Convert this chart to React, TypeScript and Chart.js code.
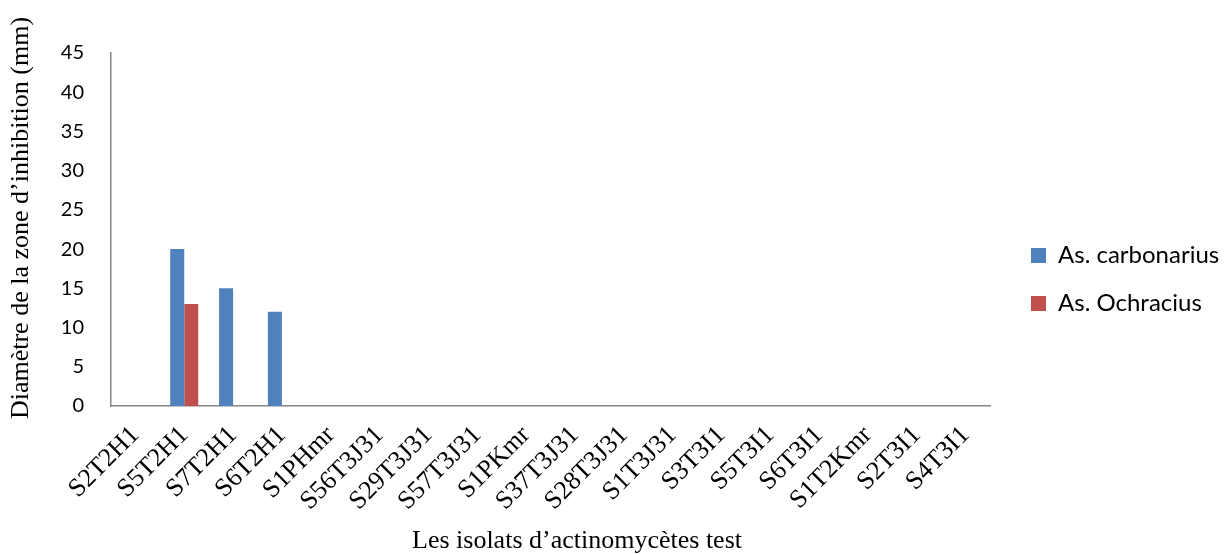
import React, { useEffect, useRef } from "react";
import { Chart, registerables } from "chart.js";

Chart.register(...registerables);

const categories = [
  "S2T2H1", "S5T2H1", "S7T2H1", "S6T2H1", "S1PHmr", "S56T3J31", "S29T3J31", "S57T3J31", "S1PKmr",
  "S37T3J31", "S28T3J31", "S1T3J31", "S3T3I1", "S5T3I1", "S6T3I1", "S1T2Kmr", "S2T3I1", "S4T3I1",
];
const carbonarius = [0, 20, 15, 12, 0, 0, 0, 0, 0, 0, 0, 0, 0, 0, 0, 0, 0, 0];
const ochracius = [0, 13, 0, 0, 0, 0, 0, 0, 0, 0, 0, 0, 0, 0, 0, 0, 0, 0];
const seriesNames = ["As. carbonarius", "As. Ochracius"];
const seriesColors = ["#4F81BD", "#C0504D"];
const yTitle = "Diamètre de la zone d’inhibition (mm)";
const xTitle = "Les isolats d’actinomycètes test";

const SERIF = "'Liberation Serif', 'Times New Roman', serif";
const SANS = "Lato, 'Open Sans', sans-serif";

const decorPlugin = {
  id: "decor",
  afterDraw(chart: any) {
    const { ctx, chartArea } = chart;
    ctx.save();
    // legend
    const x0 = chartArea.right + 41;
    const y0 = 255.5;
    ctx.font = `24px ${SANS}`;
    ctx.textBaseline = "middle";
    ctx.textAlign = "left";
    chart.data.datasets.forEach((ds: any, i: number) => {
      const cy = y0 + i * 48;
      ctx.fillStyle = ds.backgroundColor;
      ctx.fillRect(x0, cy - 7.5, 15, 15);
      ctx.fillStyle = "#000";
      ctx.fillText(ds.label, x0 + 27, cy);
    });
    // axis titles
    ctx.font = `26px ${SERIF}`;
    ctx.textAlign = "center";
    ctx.textBaseline = "middle";
    ctx.fillStyle = "#000";
    ctx.fillText(xTitle, chartArea.left + 466, 541);
    ctx.translate(21, 218);
    ctx.rotate(-Math.PI / 2);
    ctx.fillText(yTitle, 0, 0);
    ctx.restore();
  },
};

export default function App() {
  const ref = useRef<HTMLCanvasElement>(null);
  useEffect(() => {
    document.body.style.margin = "0";
    const chart = new Chart(ref.current!, {
      type: "bar",
      data: {
        labels: categories,
        datasets: [
          { label: seriesNames[0], data: carbonarius, backgroundColor: seriesColors[0] },
          { label: seriesNames[1], data: ochracius, backgroundColor: seriesColors[1] },
        ],
      },
      options: {
        animation: false,
        responsive: false,
        maintainAspectRatio: false,
        layout: { padding: { top: 53, right: 236, bottom: 0, left: 0 } },
        datasets: { bar: { categoryPercentage: 0.574, barPercentage: 1 } },
        plugins: { legend: { display: false }, tooltip: { enabled: false } },
        scales: {
          x: {
            grid: { display: false, drawTicks: false },
            border: { display: true, color: "#868686", width: 1.5 },
            ticks: {
              color: "#000",
              font: { family: SERIF, size: 26 },
              minRotation: 45,
              maxRotation: 45,
              padding: 14,
              autoSkip: false,
            },
            afterFit(scale: any) {
              scale.height = 148;
            },
          },
          y: {
            min: 0,
            max: 45,
            grid: { display: false, drawTicks: false },
            border: { display: true, color: "#868686", width: 1.5 },
            ticks: {
              stepSize: 5,
              color: "#000",
              font: { family: SANS, size: 20 },
              padding: 27,
            },
            afterFit(scale: any) {
              scale.width = 111;
            },
          },
        },
      },
      plugins: [decorPlugin],
    });
    return () => chart.destroy();
  }, []);
  return (
    <div style={{ width: 1226, height: 554 }}>
      <canvas ref={ref} width={1226} height={554} style={{ display: "block" }} />
    </div>
  );
}
